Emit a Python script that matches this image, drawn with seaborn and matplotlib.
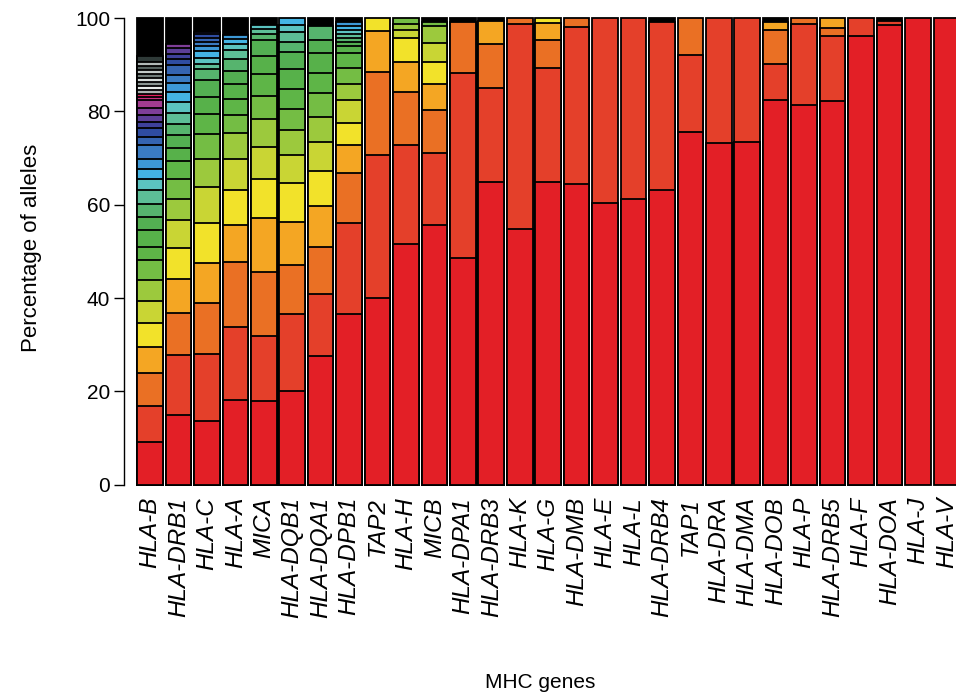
import matplotlib
matplotlib.use("Agg")
import matplotlib.pyplot as plt
import seaborn as sns
import pandas as pd
import numpy as np

# ---------------- data (percentage of alleles, most common first) ----------------
genes = ["HLA-B", "HLA-DRB1", "HLA-C", "HLA-A", "MICA", "HLA-DQB1", "HLA-DQA1",
         "HLA-DPB1", "TAP2", "HLA-H", "MICB", "HLA-DPA1", "HLA-DRB3", "HLA-K",
         "HLA-G", "HLA-DMB", "HLA-E", "HLA-L", "HLA-DRB4", "TAP1", "HLA-DRA",
         "HLA-DMA", "HLA-DOB", "HLA-P", "HLA-DRB5", "HLA-F", "HLA-DOA", "HLA-J",
         "HLA-V"]

HLA_B = [9.2, 7.75, 7.1, 5.45, 5.1, 4.8, 4.4, 4.35, 2.9, 3.5, 2.85, 2.85, 2.85,
         2.5, 2.15, 2.1, 2.85, 1.8, 1.9, 1.3, 1.55, 1.45, 1.65, 0.7, 0.7, 0.8,
         0.85, 0.85, 0.85, 0.85, 0.85, 0.85, 0.85, 1.45]
HLA_DRB1 = [14.9, 12.95, 8.9, 7.35, 6.7, 5.9, 4.5, 4.3, 3.85, 2.85, 2.85, 2.35,
            2.35, 2.3, 2.15, 1.8, 1.8, 2.1, 1.4, 1.1, 1.1, 0.85]
HLA_C = [13.75, 14.35, 10.9, 8.5, 8.5, 7.7, 6.0, 5.4, 4.25, 3.7, 3.75, 2.2, 1.1,
         1.3, 1.55, 1.0, 0.85, 0.85, 0.95, 0.5]
HLA_A = [18.15, 15.75, 13.9, 7.85, 7.45, 6.65, 5.6, 3.8, 3.55, 3.2, 2.65, 2.7,
         1.85, 1.4, 0.95, 0.85]
MICA = [17.9, 13.9, 13.9, 11.55, 8.25, 6.9, 5.9, 5.0, 4.75, 3.9, 3.45, 1.2, 0.95,
        0.85]
HLA_DQB1 = [20.0, 16.55, 10.55, 9.25, 8.4, 5.85, 5.35, 4.6, 4.3, 4.25, 3.55, 2.15,
            2.15, 1.55, 1.5]
HLA_DQA1 = [27.5, 13.3, 10.2, 8.75, 7.4, 6.3, 5.3, 5.2, 4.3, 4.25, 2.85, 3.0]
HLA_DPB1 = [36.55, 19.65, 10.7, 5.8, 4.85, 4.8, 3.55, 3.4, 3.2, 1.45, 1.0, 0.7,
            0.95, 0.9, 0.85, 0.7]
TAP2 = [40.1, 30.5, 17.8, 8.8, 2.8]
HLA_H = [51.7, 21.15, 11.4, 6.4, 5.0, 1.7, 1.45, 1.2]
MICB = [55.6, 15.55, 9.2, 5.55, 4.75, 4.0, 3.55, 0.95]
HLA_DPA1 = [48.5, 39.7, 11.0]
HLA_DRB3 = [64.9, 20.05, 9.45, 4.95]
HLA_K = [54.9, 43.8, 1.3]
HLA_G = [64.9, 24.35, 6.1, 3.55, 1.1]
HLA_DMB = [64.5, 33.5, 2.0]
HLA_E = [60.3, 39.7]
HLA_L = [61.3, 38.7]
HLA_DRB4 = [63.1, 36.1]
TAP1 = [75.6, 16.5, 7.9]
HLA_DRA = [73.3, 26.7]
HLA_DMA = [73.4, 26.6]
HLA_DOB = [82.5, 7.65, 7.35, 1.7]
HLA_P = [81.3, 17.4, 1.3]
HLA_DRB5 = [82.3, 13.8, 1.7, 2.2]
HLA_F = [96.1, 3.9]
HLA_DOA = [98.5, 0.8]
HLA_J = [100.0]
HLA_V = [100.0]

allele_shares = [HLA_B, HLA_DRB1, HLA_C, HLA_A, MICA, HLA_DQB1, HLA_DQA1,
                 HLA_DPB1, TAP2, HLA_H, MICB, HLA_DPA1, HLA_DRB3, HLA_K, HLA_G,
                 HLA_DMB, HLA_E, HLA_L, HLA_DRB4, TAP1, HLA_DRA, HLA_DMA,
                 HLA_DOB, HLA_P, HLA_DRB5, HLA_F, HLA_DOA, HLA_J, HLA_V]

yticks = [0, 20, 40, 60, 80, 100]

# ---------------- style ----------------
palette = ["#E31F26", "#E4402A", "#EA7024", "#F4A623", "#F2E22A", "#C9D534",
           "#9CC93D", "#74BD44", "#5EB547", "#57B14A", "#53AF52", "#56B46E",
           "#5DBE97", "#5BC3C0", "#44B4E4", "#3D98D6", "#3A7BC2", "#3564B1",
           "#2F4CA1", "#3E419B", "#5C3F98", "#7E3E98", "#A23C91", "#C9307F",
           "#E11E5A", "#A9B1AF", "#E6EBE9", "#8A9592", "#D6DCDA", "#6F7B78",
           "#C3CAC8", "#56625F", "#B2BAB8", "#2F3A38"]
other_color = "#000000"

sns.set_style("white")
plt.rcParams["font.family"] = ["Liberation Sans", "DejaVu Sans"]
plt.rcParams["text.color"] = "black"
plt.rcParams["axes.labelcolor"] = "black"
plt.rcParams["xtick.color"] = "black"
plt.rcParams["ytick.color"] = "black"

rows = []
for g, shares in zip(genes, allele_shares):
    cum = np.cumsum(shares)
    for k, top in enumerate(cum):
        rows.append({"gene": g, "layer": k, "top": float(top)})
    if 100.0 - cum[-1] > 0.01:
        rows.append({"gene": g, "layer": -1, "top": 100.0})
df = pd.DataFrame(rows)

fig = plt.figure(figsize=(9.56, 6.98), dpi=100)
ax = fig.add_axes([124 / 956, 208 / 698, 832 / 956, 480 / 698])

bar_kw = dict(x="gene", y="top", order=genes, width=0.9, edgecolor="black",
              linewidth=1.3, errorbar=None, saturation=1, ax=ax)

# "other" alleles (black) first, then layers from the top down
sub = df[df["layer"] == -1]
sns.barplot(data=sub, color=other_color, **bar_kw)
for k in sorted(df["layer"].unique(), reverse=True):
    if k < 0:
        continue
    sub = df[df["layer"] == k]
    sns.barplot(data=sub, color=palette[k % len(palette)], **bar_kw)

ax.set_xlim(-0.914, 28.34)
ax.set_ylim(-1.1, 101.72)

for s in ["top", "right", "bottom"]:
    ax.spines[s].set_visible(False)
ax.spines["left"].set_bounds(0, 100)
ax.spines["left"].set_linewidth(1.0)
ax.spines["left"].set_color("black")

ax.set_yticks(yticks)
ax.set_yticklabels([str(t) for t in yticks])
ax.tick_params(axis="y", direction="out", length=7, width=1.0, pad=3,
               labelsize=15, left=True, color="black", labelcolor="black")
ax.tick_params(axis="x", length=0, pad=5, labelcolor="black")
ax.set_xticks(range(len(genes)))
ax.set_xticklabels(genes, rotation=90, fontsize=17.5, style="italic")

ax.set_ylabel("Percentage of alleles", fontsize=16, color="black")
ax.yaxis.set_label_coords(-0.1106, 0.504)
ax.set_xlabel("MHC genes", fontsize=15, color="black")
ax.xaxis.set_label_coords(0.5, -0.402)
ax.xaxis.label.set_va("center")
ax.yaxis.label.set_va("center")

fig.savefig("out.png", dpi=100)
